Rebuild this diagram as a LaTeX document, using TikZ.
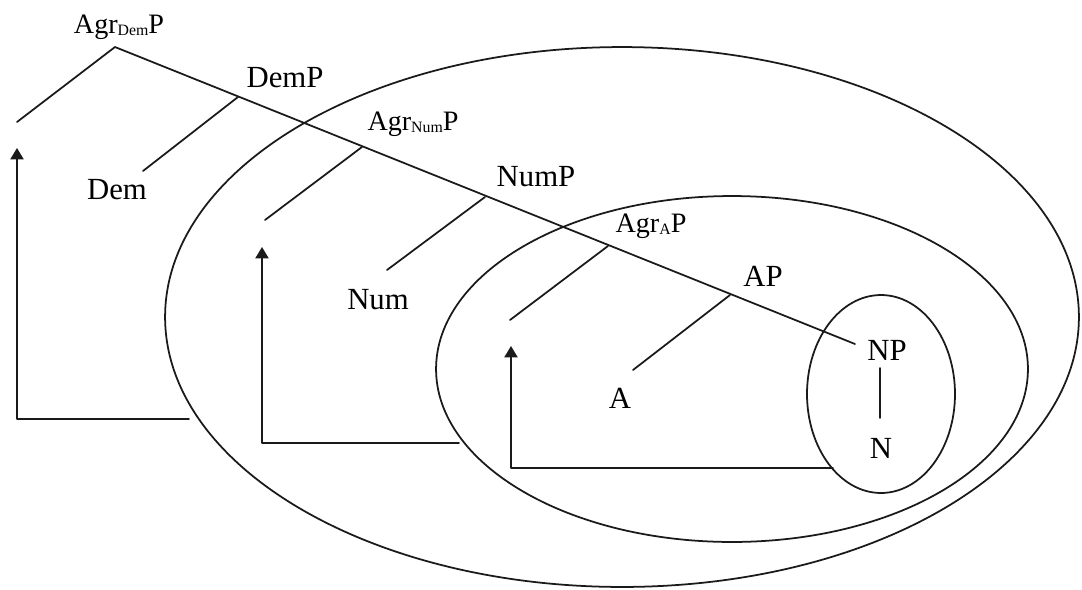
\documentclass[tikz,border=0pt]{standalone}
\usepackage{fontspec}
\setmainfont{Liberation Serif}
\usetikzlibrary{arrows.meta}
\definecolor{Ink}{HTML}{1A1A1A}
\newcommand{\agrsub}[1]{\raisebox{-1.6pt}{\fontsize{9}{9}\selectfont #1}}
\tikzset{
  catlabel/.style={inner sep=0pt,font=\fontsize{17.5}{20}\selectfont},
  agrlabel/.style={inner sep=0pt,anchor=base,font=\fontsize{16}{18}\selectfont},
  branch/.style={draw=Ink,line width=1pt},
  phraseoval/.style={draw=Ink,line width=1pt},
  movearrow/.style={draw=Ink,line width=1pt,-{Triangle[width=7.5pt,length=6.5pt]}}
}

\begin{document}
\begin{tikzpicture}[x=0.02cm,y=-0.02cm,line cap=round,line join=round]
        \useasboundingbox (0,0) rectangle (1082,589);
        % nested domains
        \path[phraseoval] (622,317) ellipse [x radius=9.14cm,y radius=5.4cm];
        \path[phraseoval] (732,369) ellipse [x radius=5.92cm,y radius=3.46cm];
        \path[phraseoval] (881,394) ellipse [x radius=1.48cm,y radius=1.98cm];
        % category labels
        \node[agrlabel] (agrdemp) at (119,33) {Agr\agrsub{Dem}P};
        \node[catlabel] (demp) at (285,78) {DemP};
        \node[catlabel] (dem) at (117,190) {Dem};
        \node[agrlabel] (agrnump) at (413,130) {Agr\agrsub{Num}P};
        \node[catlabel] (nump) at (536,177) {NumP};
        \node[catlabel] (num) at (378,300) {Num};
        \node[agrlabel] (agrap) at (651,232) {Agr\agrsub{A}P};
        \node[catlabel] (ap) at (763,276) {AP};
        \node[catlabel] (a) at (620,398) {A};
        \node[catlabel] (np) at (887,350) {NP};
        \node[catlabel] (n) at (881,448) {N};
        % branching points
        \coordinate (top) at (115,47);
        \coordinate (spec1) at (17,122);
        \coordinate (br1) at (238,97);
        \coordinate (br2) at (362,147);
        \coordinate (br3) at (485,197);
        \coordinate (br4) at (608,246);
        \coordinate (br5) at (730,295);
        \coordinate (spine-end) at (855,344);
        \coordinate (hd1) at (143,171);
        \coordinate (hd2) at (265,220);
        \coordinate (hd3) at (387,270);
        \coordinate (hd4) at (510,320);
        \coordinate (hd5) at (633,370);
        \coordinate (np-b) at (880,368);
        \coordinate (n-t) at (880,418);
        \draw[branch] (spec1) -- (top) -- (spine-end);
        \foreach \b/\h in {br1/hd1,br2/hd2,br3/hd3,br4/hd4,br5/hd5}{\draw[branch] (\b) -- (\h);}
        \draw[branch] (np-b) -- (n-t);
        % movement paths
        \coordinate (tail1) at (189,419);
        \coordinate (head1) at (17,148);
        \coordinate (tail2) at (459,443);
        \coordinate (head2) at (262,247);
        \coordinate (tail3) at (833,468);
        \coordinate (head3) at (511,346);
        \foreach \t/\h in {tail1/head1,tail2/head2,tail3/head3}{\draw[movearrow] (\t) -| (\h);}
      \end{tikzpicture}
\end{document}
